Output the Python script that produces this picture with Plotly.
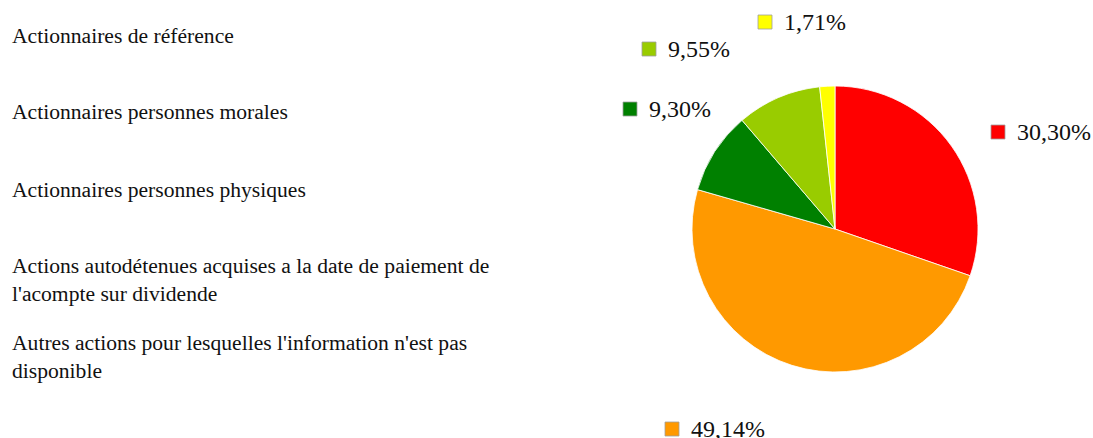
import plotly.graph_objects as go

W, H = 1093, 438

categories = [
    "Actionnaires de référence",
    "Actionnaires personnes morales",
    "Actionnaires personnes physiques",
    "Actions autodétenues acquises a la date de paiement de<br>l'acompte sur dividende",
    "Autres actions pour lesquelles l'information n'est pas<br>disponible",
]
# slice order (clockwise from 12 o'clock)
slice_values = [30.30, 49.14, 9.30, 9.55, 1.71]
slice_colors = ["#FF0000", "#FF9900", "#008000", "#99CC00", "#FFFF00"]

# label placement (pixels: left of square, vertical centre)
label_pos = [(991, 132), (665, 429), (623, 109), (642, 49), (758, 22)]
legend_y = [36, 112, 190, 280, 357]

SERIF = "Liberation Serif, Times New Roman, Tinos, serif"


def px(x):
    return x / W


def py(y):
    return 1 - y / H


cx, cy, r = 835, 229, 143

fig = go.Figure()
fig.add_trace(go.Pie(
    values=slice_values,
    labels=[c.replace("<br>", " ") for c in categories],
    marker=dict(colors=slice_colors, line=dict(color="white", width=0.8)),
    sort=False,
    direction="clockwise",
    rotation=0,
    textinfo="none",
    hoverinfo="label+percent",
    showlegend=False,
    domain=dict(x=[px(cx - r), px(cx + r)], y=[py(cy + r), py(cy - r)]),
))

annotations = []
shapes = []
for v, col, (lx, ly) in zip(slice_values, slice_colors, label_pos):
    shapes.append(dict(
        type="rect", xref="paper", yref="paper",
        x0=px(lx), x1=px(lx + 14), y0=py(ly + 7), y1=py(ly - 7),
        fillcolor=col, line=dict(color="#A0A0A0", width=0.8),
    ))
    txt = f"{v:.2f}%".replace(".", ",")
    annotations.append(dict(
        text=txt, x=px(lx + 24), y=py(ly), xref="paper", yref="paper",
        xanchor="left", yanchor="middle", showarrow=False,
        font=dict(family=SERIF, size=24, color="#111111"),
    ))

for cat, ly in zip(categories, legend_y):
    annotations.append(dict(
        text=cat, x=px(10), y=py(ly), xref="paper", yref="paper",
        xanchor="left", yanchor="middle", align="left", showarrow=False,
        font=dict(family=SERIF, size=21.6, color="#111111"),
    ))

fig.update_layout(
    width=W, height=H,
    margin=dict(l=0, r=0, t=0, b=0),
    paper_bgcolor="white", plot_bgcolor="white",
    annotations=annotations, shapes=shapes,
)
fig.write_html(
    "out.html",
    config={"displayModeBar": False},
    post_script="document.body.style.margin='0';document.body.style.padding='0';",
)
